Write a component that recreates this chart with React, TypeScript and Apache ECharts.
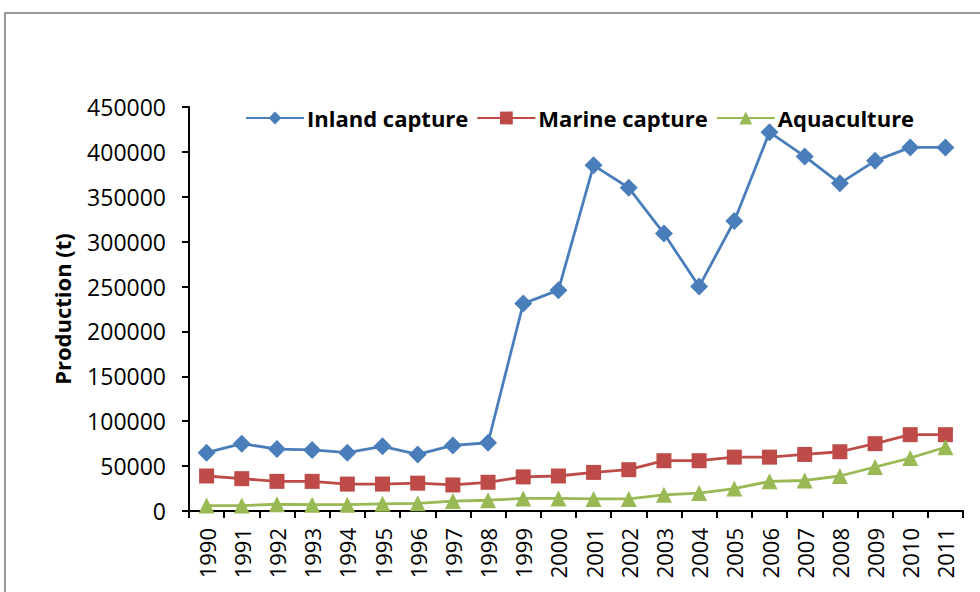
import React, { useEffect, useRef } from "react";
import * as echarts from "echarts";

const years = ["1990","1991","1992","1993","1994","1995","1996","1997","1998","1999","2000","2001","2002","2003","2004","2005","2006","2007","2008","2009","2010","2011"];
const inland = [65000,75000,69000,68000,65000,72000,63000,73000,76000,231000,246000,385000,360000,309000,250000,323000,422000,395000,365000,390000,405000,405000];
const marine = [39000,36000,33000,33000,30000,30000,31000,29000,32000,38000,39000,43000,46000,56000,56000,60000,60000,63000,66000,75000,85000,85000];
const aqua = [6000,6000,7500,7000,7000,8000,8500,11000,12000,14000,14000,13500,13500,18000,20000,25000,33000,34000,39000,49000,59000,71000];
const yTicks = [0, 50000, 100000, 150000, 200000, 250000, 300000, 350000, 400000, 450000];

const FONT = "'Open Sans', 'Liberation Sans', sans-serif";

export default function App() {
  const ref = useRef<HTMLDivElement>(null);
  useEffect(() => {
    const chart = echarts.init(ref.current!, undefined, { renderer: "svg" });
    const mk = (name: string, data: number[], color: string, symbol: string, size: number) => ({
      name, type: "line", data, symbol, symbolSize: size,
      lineStyle: { color, width: 2.8 }, itemStyle: { color },
    });
    chart.setOption({
      animation: false,
      backgroundColor: "#fff",
      textStyle: { fontFamily: FONT },
      graphic: [{
        type: "rect", shape: { x: 5, y: 13, width: 1000, height: 620 },
        style: { fill: "none", stroke: "#7a7a7a", lineWidth: 1.5 }, z: -1,
      }],
      legend: {
        left: 240, top: 102, itemGap: 8, itemWidth: 58, itemHeight: 16,
        textStyle: { fontSize: 22, fontWeight: "bold", color: "#000", fontFamily: FONT, padding: [0, 0, 0, -2] },
        data: ["Inland capture", "Marine capture", "Aquaculture"],
      },
      grid: { left: 189, right: 17, top: 107, bottom: 81 },
      xAxis: {
        type: "category", data: years, boundaryGap: true,
        axisLine: { lineStyle: { color: "#000", width: 2 } },
        axisTick: { show: true, alignWithLabel: false, length: 7, lineStyle: { color: "#000", width: 2 } },
        axisLabel: { rotate: 90, fontSize: 22, color: "#000", margin: 17, interval: 0, fontFamily: FONT },
      },
      yAxis: {
        type: "value", min: 0, max: 450000, interval: 50000,
        name: "Production (t)", nameLocation: "middle", nameGap: 116, nameRotate: 90,
        nameTextStyle: { fontSize: 22, fontWeight: "bold", color: "#000", fontFamily: FONT },
        axisLine: { show: true, lineStyle: { color: "#000", width: 2 } },
        axisTick: { show: true, length: 7, lineStyle: { color: "#000", width: 2 } },
        axisLabel: { fontSize: 23, color: "#000", margin: 23, fontFamily: FONT,
          formatter: (v: number) => (yTicks.includes(v) ? String(v) : "") },
        splitLine: { show: false },
      },
      series: [
        mk("Inland capture", inland, "#4a7ebb", "diamond", 18),
        mk("Marine capture", marine, "#be4b48", "rect", 15),
        mk("Aquaculture", aqua, "#98b954", "triangle", 16),
      ],
    });
    return () => chart.dispose();
  }, []);
  return <div ref={ref} style={{ position: "fixed", left: 0, top: 0, width: 980, height: 592 }} />;
}
